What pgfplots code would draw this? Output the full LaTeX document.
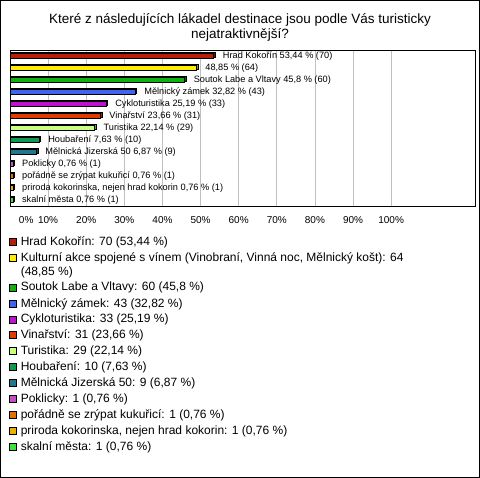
\documentclass[border=0pt]{standalone}
\usepackage{pgfplots}
\pgfplotsset{compat=1.18}
\usepackage{fontspec}
\setmainfont{Liberation Sans}
\definecolor{c1}{HTML}{B41E0A}
\definecolor{c2}{HTML}{FFEC00}
\definecolor{c3}{HTML}{10B010}
\definecolor{c4}{HTML}{4064F0}
\definecolor{c5}{HTML}{C010D0}
\definecolor{c6}{HTML}{E03C00}
\definecolor{c7}{HTML}{C8FF80}
\definecolor{c8}{HTML}{109850}
\definecolor{c9}{HTML}{20788C}
\definecolor{c10}{HTML}{C050C0}
\definecolor{c11}{HTML}{E07000}
\definecolor{c12}{HTML}{E8B000}
\definecolor{c13}{HTML}{40E040}
\begin{document}
\begin{tikzpicture}[
  bar3d/.style={fill=#1, draw=black, line width=0.5pt,
    preaction={fill=#1!60!black, draw=black, line width=0.5pt, transform canvas={shift={(1.6pt,1.4pt)}}}}]
\draw[line width=1pt] (0.5pt,-0.5pt) rectangle (479.5pt,-477.5pt);
\node[align=center, font=\fontsize{13.5}{15}\selectfont, anchor=north, inner sep=0pt] at (240pt,-13pt) {Které z následujících lákadel destinace jsou podle Vás turisticky\\nejatraktivnější?};
\begin{axis}[
  at={(10pt,-50pt)}, anchor=north west,
  width=465pt, height=156pt, scale only axis,
  xmin=0, xmax=122, ymin=-0.5, ymax=12.5, y dir=reverse,
  xbar, bar width=5pt, bar shift=0pt,
  xtick={0,10,...,100},
  xticklabels={\makebox[0pt][l]{\hspace{9pt}0\%},10\%,20\%,30\%,40\%,50\%,60\%,70\%,80\%,90\%,100\%},
  ytick=\empty,
  xmajorgrids, major grid style={draw=black!25, line width=0.8pt},
  tick style={draw=none},
  axis line style={line width=1pt},
  xticklabel style={font=\fontsize{10}{12}\selectfont, yshift=-7pt},
  every node near coord/.append style={font=\fontsize{9.2}{11}\selectfont, inner sep=0pt, xshift=9pt, text=black},
  legend image code/.code={\draw[#1, line width=0.6pt] (0pt,-3.5pt) rectangle (7pt,3.5pt);},
  legend style={at={(-0.0022,-0.1955)}, anchor=north west, draw=none, fill=none, inner sep=0pt,
    font=\fontsize{12}{13.5}\selectfont, row sep=5.7pt, cells={anchor=west, align=left}, nodes={inner sep=0pt},
    /tikz/every odd column/.append style={column sep=4pt}},
  legend cell align=left,
  clip=false,
]
\addplot[bar3d=c1, forget plot, nodes near coords={Hrad Kokořín 53,44 \% (70)}] coordinates {(53.44,0)};
\addplot[bar3d=c2, forget plot, nodes near coords={48,85 \% (64)}] coordinates {(48.85,1)};
\addplot[bar3d=c3, forget plot, nodes near coords={Soutok Labe a Vltavy 45,8 \% (60)}] coordinates {(45.8,2)};
\addplot[bar3d=c4, forget plot, nodes near coords={Mělnický zámek 32,82 \% (43)}] coordinates {(32.82,3)};
\addplot[bar3d=c5, forget plot, nodes near coords={Cykloturistika 25,19 \% (33)}] coordinates {(25.19,4)};
\addplot[bar3d=c6, forget plot, nodes near coords={Vinařství 23,66 \% (31)}] coordinates {(23.66,5)};
\addplot[bar3d=c7, forget plot, nodes near coords={Turistika 22,14 \% (29)}] coordinates {(22.14,6)};
\addplot[bar3d=c8, forget plot, nodes near coords={Houbaření 7,63 \% (10)}] coordinates {(7.63,7)};
\addplot[bar3d=c9, forget plot, nodes near coords={Mělnická Jizerská 50 6,87 \% (9)}] coordinates {(6.87,8)};
\addplot[bar3d=c10, forget plot, nodes near coords={Poklicky 0,76 \% (1)}] coordinates {(0.76,9)};
\addplot[bar3d=c11, forget plot, nodes near coords={pořádně se zrýpat kukuřicí 0,76 \% (1)}] coordinates {(0.76,10)};
\addplot[bar3d=c12, forget plot, nodes near coords={priroda kokorinska, nejen hrad kokorin 0,76 \% (1)}] coordinates {(0.76,11)};
\addplot[bar3d=c13, forget plot, nodes near coords={skalní města 0,76 \% (1)}] coordinates {(0.76,12)};
\addlegendimage{fill=c1,draw=black}\addlegendentry{Hrad Kokořín: 70 (53,44 \%)}
\addlegendimage{fill=c2,draw=black,yshift=6.75pt}\addlegendentry{{Kulturní akce spojené s vínem (Vinobraní, Vinná noc, Mělnický košt): 64\\(48,85 \%)}}
\addlegendimage{fill=c3,draw=black}\addlegendentry{Soutok Labe a Vltavy: 60 (45,8 \%)}
\addlegendimage{fill=c4,draw=black}\addlegendentry{Mělnický zámek: 43 (32,82 \%)}
\addlegendimage{fill=c5,draw=black}\addlegendentry{Cykloturistika: 33 (25,19 \%)}
\addlegendimage{fill=c6,draw=black}\addlegendentry{Vinařství: 31 (23,66 \%)}
\addlegendimage{fill=c7,draw=black}\addlegendentry{Turistika: 29 (22,14 \%)}
\addlegendimage{fill=c8,draw=black}\addlegendentry{Houbaření: 10 (7,63 \%)}
\addlegendimage{fill=c9,draw=black}\addlegendentry{Mělnická Jizerská 50: 9 (6,87 \%)}
\addlegendimage{fill=c10,draw=black}\addlegendentry{Poklicky: 1 (0,76 \%)}
\addlegendimage{fill=c11,draw=black}\addlegendentry{pořádně se zrýpat kukuřicí: 1 (0,76 \%)}
\addlegendimage{fill=c12,draw=black}\addlegendentry{priroda kokorinska, nejen hrad kokorin: 1 (0,76 \%)}
\addlegendimage{fill=c13,draw=black}\addlegendentry{skalní města: 1 (0,76 \%)}
\end{axis}
\end{tikzpicture}
\end{document}
